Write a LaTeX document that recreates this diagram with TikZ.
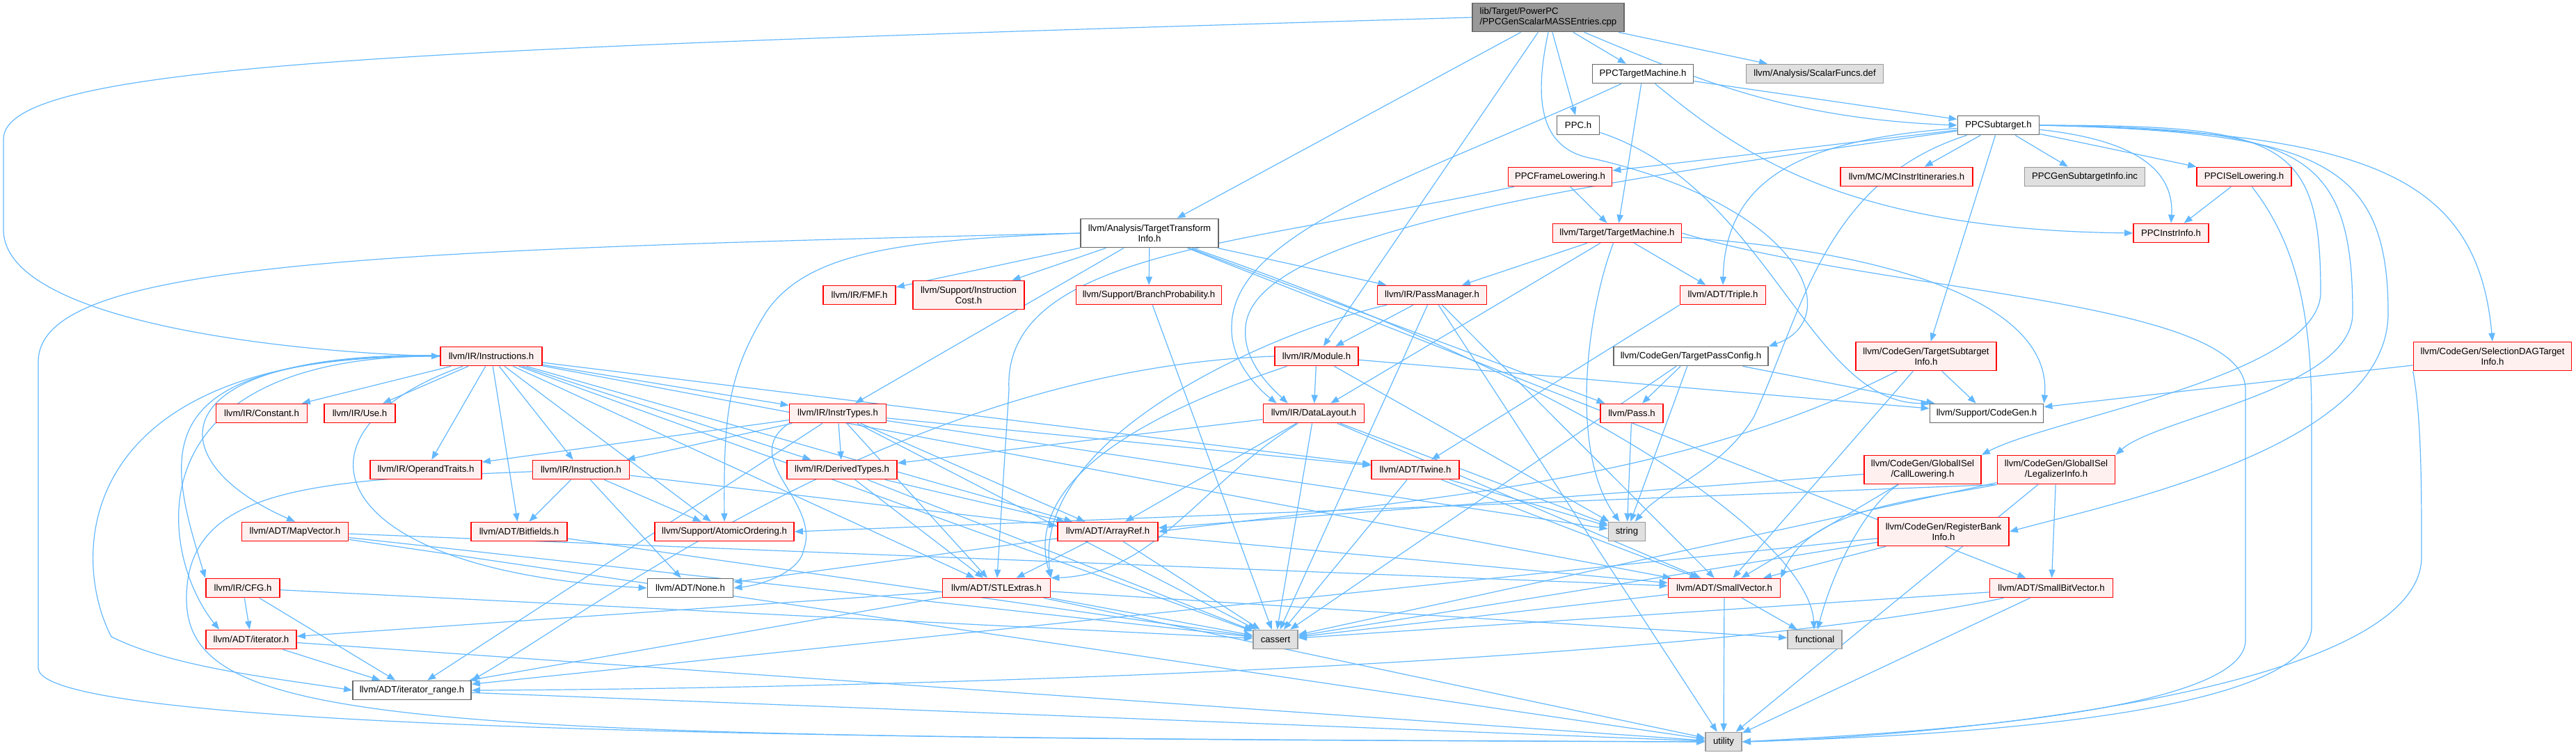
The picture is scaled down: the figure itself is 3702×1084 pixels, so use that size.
\documentclass[tikz,border=0pt]{standalone}
\usepackage{fontspec}
\setmainfont{Liberation Sans}
\usetikzlibrary{arrows.meta,backgrounds}
\definecolor{edgeblue}{HTML}{63B8FF}
\definecolor{rootfill}{HTML}{999999}
\definecolor{boxline}{HTML}{666666}
\definecolor{redfill}{HTML}{FFF0F0}
\definecolor{sysfill}{HTML}{E0E0E0}
\definecolor{sysline}{HTML}{999999}
\tikzset{
  hbox/.style={
    rectangle, inner sep=1pt, minimum height=13.5pt, line width=0.9pt,
    align=center, font=\fontsize{6.6}{7.5}\selectfont
  },
  rootbox/.style={hbox, draw=boxline, fill=rootfill, minimum width=#1, align=left},
  wbox/.style={hbox, draw=boxline, fill=white, minimum width=#1},
  rbox/.style={hbox, draw=red, fill=redfill, minimum width=#1},
  sbox/.style={hbox, draw=sysline, fill=sysfill, minimum width=#1},
  twoline/.style={minimum height=20.5pt},
  arr/.style={-{Stealth[length=6pt, width=4.6pt, inset=0pt]}, line width=0.6pt, edgeblue}
}

\begin{document}
\begin{tikzpicture}[x=0.5pt, y=-0.5pt]
  \useasboundingbox (0,0) rectangle (3702,1084);

  \node[rootbox=109pt, twoline] (root) at (2225,25)
    {lib/Target/PowerPC\\/PPCGenScalarMASSEntries.cpp};
  \node[wbox=72.5pt] (ppctm) at (2361,106) {PPCTargetMachine.h};
  \node[sbox=98.5pt] (sfdef) at (2608,106) {llvm/Analysis/ScalarFuncs.def};
  \node[wbox=30.5pt] (ppch) at (2268,180) {PPC.h};
  \node[wbox=58.5pt] (ppcst) at (2872,180) {PPCSubtarget.h};
  \node[rbox=74.5pt] (ppcfl) at (2242,254) {PPCFrameLowering.h};
  \node[rbox=95pt] (mcii) at (2740,254) {llvm/MC/MCInstrItineraries.h};
  \node[sbox=86.5pt] (ppcgsi) at (2996,254) {PPCGenSubtargetInfo.inc};
  \node[rbox=68pt] (ppcisel) at (3225,254) {PPCISelLowering.h};
  \node[wbox=99pt, twoline] (tti) at (1652,335)
    {llvm/Analysis/TargetTransform\\Info.h};
  \node[rbox=92.5pt] (tgtm) at (2324,335) {llvm/Target/TargetMachine.h};
  \node[rbox=54pt] (ppcii) at (3120,335) {PPCInstrInfo.h};
  \node[rbox=52pt] (fmf) at (1235,424) {llvm/IR/FMF.h};
  \node[rbox=80pt, twoline] (icost) at (1392,424)
    {llvm/Support/Instruction\\Cost.h};
  \node[rbox=104.5pt] (bprob) at (1651,424) {llvm/Support/BranchProbability.h};
  \node[rbox=78.5pt] (pm) at (2058,424) {llvm/IR/PassManager.h};
  \node[rbox=61.5pt] (triple) at (2476,424) {llvm/ADT/Triple.h};
  \node[rbox=73pt] (insts) at (706,512) {llvm/IR/Instructions.h};
  \node[rbox=60pt] (module) at (1892,512) {llvm/IR/Module.h};
  \node[wbox=111pt] (tpc) at (2430,512) {llvm/CodeGen/TargetPassConfig.h};
  \node[rbox=101pt, twoline] (tsi) at (2768,512)
    {llvm/CodeGen/TargetSubtarget\\Info.h};
  \node[rbox=113.5pt, twoline] (sdti) at (3582,512)
    {llvm/CodeGen/SelectionDAGTarget\\Info.h};
  \node[rbox=65.5pt] (constant) at (376,594) {llvm/IR/Constant.h};
  \node[rbox=51pt] (use) at (517,594) {llvm/IR/Use.h};
  \node[rbox=69.5pt] (itypes) at (1204,594) {llvm/IR/InstrTypes.h};
  \node[rbox=72.5pt] (dl) at (1888,594) {llvm/IR/DataLayout.h};
  \node[rbox=45pt] (pass) at (2345,594) {llvm/Pass.h};
  \node[wbox=81.5pt] (cgen) at (2855,594) {llvm/Support/CodeGen.h};
  \node[rbox=80pt] (optr) at (612,675) {llvm/IR/OperandTraits.h};
  \node[rbox=69.5pt] (inst) at (835,675) {llvm/IR/Instruction.h};
  \node[rbox=79pt] (dtypes) at (1210,675) {llvm/IR/DerivedTypes.h};
  \node[rbox=63pt] (twine) at (2034,675) {llvm/ADT/Twine.h};
  \node[rbox=84pt, twoline] (calllow) at (2763,675)
    {llvm/CodeGen/GlobalISel\\/CallLowering.h};
  \node[rbox=84.5pt, twoline] (leginfo) at (2955,675)
    {llvm/CodeGen/GlobalISel\\/LegalizerInfo.h};
  \node[rbox=76.5pt] (mapvec) at (424,764) {llvm/ADT/MapVector.h};
  \node[rbox=69pt] (bitf) at (746,764) {llvm/ADT/Bitfields.h};
  \node[rbox=100pt] (atomic) at (1041,764) {llvm/Support/AtomicOrdering.h};
  \node[rbox=72pt] (aref) at (1592,764) {llvm/ADT/ArrayRef.h};
  \node[sbox=26.5pt] (string) at (2338,764) {string};
  \node[rbox=94pt, twoline] (rbi) at (2793,764)
    {llvm/CodeGen/RegisterBank\\Info.h};
  \node[rbox=53pt] (cfg) at (349,845) {llvm/IR/CFG.h};
  \node[wbox=61.5pt] (none) at (992,845) {llvm/ADT/None.h};
  \node[rbox=77.5pt] (stlx) at (1432,845) {llvm/ADT/STLExtras.h};
  \node[rbox=80.5pt] (svec) at (2478,845) {llvm/ADT/SmallVector.h};
  \node[rbox=88.5pt] (sbv) at (2948,845) {llvm/ADT/SmallBitVector.h};
  \node[rbox=65pt] (iter) at (361,919) {llvm/ADT/iterator.h};
  \node[sbox=32pt] (cassert) at (1833,919) {cassert};
  \node[sbox=39pt] (functional) at (2608,919) {functional};
  \node[wbox=85pt] (irange) at (592,992) {llvm/ADT/iterator\_range.h};
  \node[sbox=26pt] (utility) at (2477,1066) {utility};

  \begin{scope}[on background layer]
  % source file
  \draw[arr] (root.west) .. controls (600,70) and (5,90) .. (5,200)
    -- (5,330) .. controls (5,460) and (400,505) .. (insts.west);
  \draw[arr] (root) -- (tti);
  \draw[arr] (root) -- (module);
  \draw[arr] (root) -- (ppch);
  \draw[arr] (root) -- (ppctm);
  \draw[arr] (root) .. controls (2430,110) and (2560,170) .. (ppcst.west);
  \draw[arr] (root) -- (sfdef);
  \draw[arr] (root.south) .. controls (2205,140) and (2210,215) .. (2290,228)
    .. controls (2600,300) and (2650,460) .. (tpc.north east);
  % PPC target headers
  \draw[arr] (ppctm) -- (ppcst);
  \draw[arr] (ppctm) .. controls (2500,220) and (2650,330) .. (ppcii.west);
  \draw[arr] (ppctm) .. controls (2050,250) and (1770,330) .. (1770,470)
    .. controls (1768,520) and (1810,560) .. ([xshift=10pt]dl.north west);
  \draw[arr] (ppctm) -- (tgtm);
  \draw[arr] (ppch) .. controls (2540,270) and (2600,580) .. (cgen.north west);
  \draw[arr] (ppcst) -- (ppcfl);
  \draw[arr] (ppcst) -- (ppcisel);
  \draw[arr] (ppcst) .. controls (3060,200) and (3125,240) .. (ppcii.north);
  \draw[arr] (ppcst) .. controls (2600,200) and (2480,250) .. (triple.north);
  \draw[arr] (ppcst.east) .. controls (3280,180) and (3335,200) .. (3335,420)
    .. controls (3335,540) and (2950,600) .. (calllow.north east);
  \draw[arr] (ppcst.east) .. controls (3300,185) and (3381,210) .. (3381,450)
    .. controls (3381,560) and (3100,600) .. (leginfo.north east);
  \draw[arr] (ppcst.east) .. controls (3330,190) and (3432,230) .. (3432,450)
    .. controls (3432,640) and (3050,720) .. (rbi.east);
  \draw[arr] (ppcst.east) .. controls (3400,190) and (3560,250) .. (sdti.north);
  \draw[arr] (ppcst) -- (tsi);
  \draw[arr] (ppcst) .. controls (2300,260) and (1800,330) .. (1790,470)
    .. controls (1785,520) and (1830,560) .. ([xshift=18pt]dl.north west);
  \draw[arr] (ppcst) -- (mcii);
  \draw[arr] (ppcst) .. controls (2620,260) and (2590,450) .. (2520,600)
    .. controls (2470,680) and (2390,700) .. (string);
  \draw[arr] (ppcst) -- (ppcgsi);
  \draw[arr] (ppcfl) .. controls (1800,350) and (1440,360) .. (1450,560)
    -- (stlx);
  \draw[arr] (ppcfl) -- (tgtm);
  \draw[arr] (ppcisel) -- (ppcii);
  \draw[arr] (ppcisel) .. controls (3300,350) and (3322,450) .. (3322,600)
    -- (3322,900) .. controls (3322,1040) and (2700,1060) .. (utility.east);
  % analysis and target machine
  \draw[arr] (tti) -- (sbv);
  \draw[arr] (tti) -- (fmf);
  \draw[arr] (tti) -- (itypes);
  \draw[arr] (tti) -- (pm);
  \draw[arr] (tti) -- (pass);
  \draw[arr] (tti.west) .. controls (1300,345) and (1160,360) .. (1100,450)
    .. controls (1045,540) and (1040,600) .. (atomic.north);
  \draw[arr] (tti) -- (bprob);
  \draw[arr] (tti) -- (icost);
  \draw[arr] (tti) .. controls (2300,560) and (2600,780) .. (functional);
  \draw[arr] (tti.west) .. controls (500,360) and (55,380) .. (55,520)
    -- (55,960) .. controls (55,1060) and (1500,1062) .. (utility.west);
  \draw[arr] (tgtm) -- (triple);
  \draw[arr] (tgtm) -- (dl);
  \draw[arr] (tgtm) -- (pm);
  \draw[arr] (tgtm) .. controls (2700,360) and (2950,430) .. (cgen.north east);
  \draw[arr] (tgtm) .. controls (2280,450) and (2255,650) .. (string);
  \draw[arr] (tgtm.east) .. controls (2700,420) and (3227,430) .. (3227,560)
    -- (3227,920) .. controls (3227,1030) and (2700,1055) .. (utility.east);
  \draw[arr] (bprob) -- (cassert);
  \draw[arr] (pm) .. controls (1850,470) and (1480,620) .. (stlx.north east);
  \draw[arr] (pm) -- (svec);
  \draw[arr] (pm) -- (module);
  \draw[arr] (pm) -- (cassert);
  \draw[arr] (pm) -- (utility);
  \draw[arr] (triple.south west) -- (twine);
  % IR headers
  \draw[arr] (insts) -- (constant);
  \draw[arr] (insts) -- (use);
  \draw[arr] (insts) -- (itypes);
  \draw[arr] (insts) -- (optr);
  \draw[arr] (insts) -- (inst);
  \draw[arr] (insts) -- (dtypes);
  \draw[arr] (insts) .. controls (230,505) and (220,660) .. (mapvec.north);
  \draw[arr] (insts) -- (bitf);
  \draw[arr] (insts) -- (atomic);
  \draw[arr] (insts) .. controls (200,512) and (240,650) .. (cfg.north west);
  \draw[arr] (insts) .. controls (400,620) and (460,820) .. (none.west);
  \draw[arr] (insts) .. controls (180,510) and (230,800)
    .. ([xshift=10pt]iter.north west);
  \draw[arr] (insts) .. controls (100,505) and (100,800) .. (160,915)
    .. controls (250,960) and (400,975) .. (irange.west);
  \draw[arr] (insts) -- (aref);
  \draw[arr] (insts) -- (stlx);
  \draw[arr] (insts) -- (svec);
  \draw[arr] (insts) -- (twine);
  \draw[arr] (insts) -- (cassert);
  \draw[arr] (module) .. controls (1750,560) and (1460,660) .. (stlx.north east);
  \draw[arr] (module.west) .. controls (1300,530) and (850,880) .. (irange.north east);
  \draw[arr] (module) -- (dl);
  \draw[arr] (module) -- (cgen);
  \draw[arr] (module) -- (string);
  \draw[arr] (tpc) -- (pass);
  \draw[arr] (tpc) -- (cgen);
  \draw[arr] (tpc) -- (cassert);
  \draw[arr] (tpc) -- (string);
  \draw[arr] (tsi) .. controls (2400,700) and (2000,720) .. (aref.east);
  \draw[arr] (tsi) -- (svec);
  \draw[arr] (tsi) -- (cgen);
  \draw[arr] (sdti) -- (cgen);
  \draw[arr] (sdti.south west) .. controls (3480,600) and (3480,700) .. (3480,800)
    .. controls (3480,1000) and (2750,1060) .. (utility.east);
  \draw[arr] (itypes) -- (aref);
  \draw[arr] (itypes.south west) .. controls (1060,660) and (1180,720) .. (1155,790)
    .. controls (1150,820) and (1100,840) .. (none.east);
  \draw[arr] (itypes) -- (stlx);
  \draw[arr] (itypes) -- (twine);
  \draw[arr] (itypes) -- (irange);
  \draw[arr] (itypes) -- (dtypes);
  \draw[arr] (itypes) -- (inst);
  \draw[arr] (itypes) -- (optr);
  \draw[arr] (itypes) -- (cassert);
  \draw[arr] (itypes) -- (string);
  \draw[arr] (dl) -- (aref);
  \draw[arr] (dl) .. controls (1720,700) and (1660,825) .. (stlx.north east);
  \draw[arr] (dl) -- (svec);
  \draw[arr] (dl) -- (dtypes);
  \draw[arr] (dl) -- (cassert);
  \draw[arr] (dl) -- (string);
  \draw[arr] (pass) -- (string);
  \draw[arr] (inst) -- (aref);
  \draw[arr] (inst) -- (bitf);
  \draw[arr] (inst) -- (none);
  \draw[arr] (inst) -- (atomic);
  \draw[arr] (inst) .. controls (450,690) and (268,700) .. (268,860)
    .. controls (268,1050) and (600,1060) .. (utility.west);
  \draw[arr] (dtypes) -- (aref);
  \draw[arr] (dtypes) -- (stlx);
  \draw[arr] (dtypes) -- (cassert);
  \draw[arr] (twine) -- (svec);
  \draw[arr] (twine) -- (cassert);
  \draw[arr] (twine) -- (string);
  % code generation headers
  \draw[arr] (calllow) -- (aref);
  \draw[arr] (calllow) -- (svec);
  \draw[arr] (calllow) .. controls (2690,720) and (2640,800) .. (functional);
  \draw[arr] (leginfo) -- (sbv);
  \draw[arr] (leginfo.south west) .. controls (2750,720) and (2600,730)
    .. (svec.north east);
  \draw[arr] (leginfo.south west) -- (atomic.east);
  \draw[arr] (leginfo) -- (cassert);
  \draw[arr] (leginfo) -- (utility);
  \draw[arr] (rbi) -- (svec);
  \draw[arr] (rbi) -- (irange);
  \draw[arr] (rbi) -- (cassert);
  % ADT headers
  \draw[arr] (mapvec) -- (svec);
  \draw[arr] (mapvec) -- (cassert);
  \draw[arr] (mapvec) -- (utility);
  \draw[arr] (bitf) -- (cassert);
  \draw[arr] (aref) -- (none);
  \draw[arr] (aref) -- (svec);
  \draw[arr] (aref) -- (stlx);
  \draw[arr] (aref) -- (cassert);
  \draw[arr] (cfg) -- (iter);
  \draw[arr] (cfg) -- (irange);
  \draw[arr] (cfg) -- (cassert);
  \draw[arr] (stlx) -- (iter);
  \draw[arr] (stlx) -- (irange);
  \draw[arr] (stlx) -- (cassert);
  \draw[arr] (stlx) -- (functional);
  \draw[arr] (stlx) -- (utility);
  \draw[arr] (svec) -- (cassert);
  \draw[arr] (svec) -- (functional);
  \draw[arr] (svec) -- (utility);
  \draw[arr] (sbv) .. controls (2400,960) and (1200,990) .. (irange.east);
  \draw[arr] (sbv) -- (cassert);
  \draw[arr] (sbv) -- (utility);
  \draw[arr] (iter) -- (irange);
  \draw[arr] (iter) -- (utility);
  \draw[arr] (irange) -- (utility);
  \end{scope}
\end{tikzpicture}
\end{document}
